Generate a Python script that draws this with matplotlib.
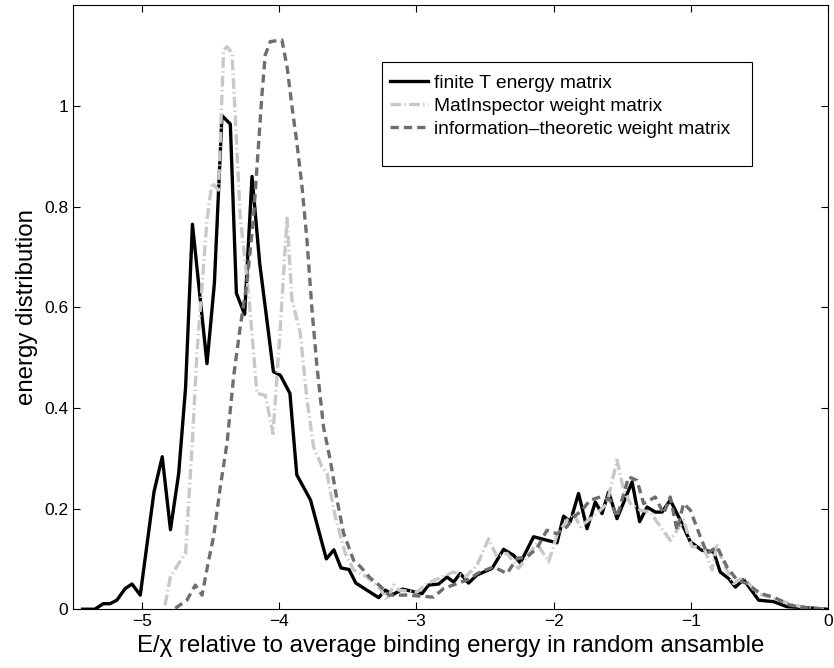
import numpy as np
import matplotlib
matplotlib.use('Agg')
import matplotlib.pyplot as plt
from matplotlib.patches import Rectangle

plt.rcParams['font.family'] = ['Liberation Sans', 'DejaVu Sans']

# finite T energy matrix (black, solid)
x_finite = [-5.43, -5.34, -5.28, -5.23, -5.18, -5.12, -5.07, -5.01, -4.91, -4.85,
            -4.79, -4.73, -4.68, -4.63, -4.524, -4.47, -4.415, -4.354, -4.31, -4.25,
            -4.196, -4.14, -4.04, -3.99, -3.92, -3.87, -3.77, -3.655, -3.60, -3.548,
            -3.49, -3.44, -3.274, -3.225, -3.17, -3.10, -2.958, -2.91, -2.837, -2.776,
            -2.728, -2.68, -2.619, -2.558, -2.448, -2.364, -2.291, -2.242, -2.145, -2.048,
            -1.975, -1.927, -1.878, -1.818, -1.756, -1.696, -1.647, -1.599, -1.538, -1.428,
            -1.373, -1.319, -1.259, -1.21, -1.15, -1.077, -1.004, -0.919, -0.834, -0.786,
            -0.725, -0.676, -0.616, -0.506, -0.397, -0.30, -0.154, -0.01]
y_finite = [0.0, 0.0, 0.011, 0.011, 0.018, 0.041, 0.05, 0.028, 0.233, 0.303,
            0.158, 0.27, 0.44, 0.765, 0.488, 0.648, 0.981, 0.964, 0.628, 0.586,
            0.86, 0.687, 0.472, 0.465, 0.429, 0.267, 0.217, 0.10, 0.118, 0.082,
            0.079, 0.052, 0.023, 0.038, 0.029, 0.040, 0.031, 0.048, 0.05, 0.064,
            0.054, 0.071, 0.052, 0.068, 0.081, 0.119, 0.107, 0.092, 0.144, 0.137,
            0.132, 0.185, 0.174, 0.23, 0.16, 0.213, 0.19, 0.233, 0.18, 0.253,
            0.174, 0.203, 0.193, 0.193, 0.217, 0.177, 0.134, 0.117, 0.114, 0.074,
            0.061, 0.044, 0.059, 0.018, 0.015, 0.005, 0.003, 0.0]

# MatInspector weight matrix (light grey, dash-dot)
x_matinsp = [-4.83, -4.79, -4.73, -4.68, -4.63, -4.597, -4.524, -4.488, -4.44, -4.403,
             -4.378, -4.342, -4.318, -4.282, -4.221, -4.16, -4.099, -4.043, -3.99, -3.941,
             -3.905, -3.845, -3.796, -3.748, -3.687, -3.65, -3.59, -3.517, -3.456, -3.359,
             -3.262, -3.213, -3.165, -3.129, -2.995, -2.922, -2.812, -2.728, -2.643, -2.558,
             -2.473, -2.412, -2.339, -2.255, -2.193, -2.121, -2.036, -1.975, -1.902, -1.854,
             -1.805, -1.745, -1.684, -1.611, -1.538, -1.49, -1.441, -1.368, -1.295, -1.222,
             -1.15, -1.101, -1.053, -0.992, -0.907, -0.846, -0.81, -0.761, -0.689, -0.616,
             -0.518, -0.421, -0.324, -0.203, -0.033]
y_matinsp = [0.008, 0.064, 0.091, 0.111, 0.336, 0.51, 0.773, 0.847, 0.833, 1.111,
             1.118, 1.105, 0.979, 0.78, 0.628, 0.429, 0.425, 0.349, 0.56, 0.777,
             0.614, 0.549, 0.416, 0.323, 0.283, 0.27, 0.184, 0.111, 0.078, 0.064,
             0.041, 0.018, 0.048, 0.038, 0.034, 0.051, 0.064, 0.074, 0.064, 0.087,
             0.14, 0.104, 0.111, 0.081, 0.104, 0.131, 0.094, 0.147, 0.177, 0.19,
             0.164, 0.177, 0.19, 0.21, 0.296, 0.237, 0.21, 0.197, 0.193, 0.164,
             0.137, 0.157, 0.177, 0.124, 0.124, 0.078, 0.131, 0.09, 0.051, 0.064,
             0.031, 0.024, 0.015, 0.005, 0.0]

# information-theoretic weight matrix (dark grey, dashed)
x_info = [-4.755, -4.67, -4.609, -4.56, -4.512, -4.476, -4.427, -4.378, -4.33, -4.282,
          -4.233, -4.185, -4.148, -4.123, -4.1, -4.063, -3.978, -3.941, -3.905, -3.869,
          -3.832, -3.796, -3.759, -3.723, -3.675, -3.626, -3.577, -3.529, -3.456, -3.408,
          -3.335, -3.262, -3.201, -3.067, -2.97, -2.874, -2.801, -2.703, -2.63, -2.534,
          -2.437, -2.339, -2.266, -2.193, -2.121, -2.048, -1.975, -1.902, -1.854, -1.793,
          -1.732, -1.659, -1.587, -1.538, -1.453, -1.392, -1.344, -1.259, -1.198, -1.15,
          -1.101, -1.053, -1.004, -0.931, -0.882, -0.81, -0.737, -0.664, -0.591, -0.494,
          -0.397, -0.276, -0.154, -0.033]
y_info = [0.002, 0.018, 0.048, 0.028, 0.097, 0.144, 0.243, 0.33, 0.462, 0.561,
          0.648, 0.78, 0.926, 1.025, 1.101, 1.128, 1.131, 1.078, 0.999, 0.926,
          0.84, 0.734, 0.594, 0.482, 0.362, 0.296, 0.217, 0.151, 0.097, 0.085,
          0.062, 0.046, 0.028, 0.028, 0.026, 0.024, 0.041, 0.051, 0.058, 0.074,
          0.084, 0.071, 0.101, 0.104, 0.121, 0.157, 0.15, 0.164, 0.183, 0.197,
          0.217, 0.223, 0.217, 0.183, 0.263, 0.256, 0.21, 0.223, 0.19, 0.223,
          0.157, 0.21, 0.197, 0.144, 0.111, 0.124, 0.084, 0.058, 0.051, 0.031,
          0.024, 0.008, 0.003, 0.0]

fig = plt.figure(figsize=(8.34, 6.68), dpi=100)
ax = fig.add_axes([0.0875, 0.088, 0.9055, 0.904])

ax.plot(x_finite, y_finite, color='black', lw=2.4, label='finite T energy matrix')
ax.plot(x_matinsp, y_matinsp, color='#c8c8c8', lw=2.4, dashes=(3.2, 1.0, 0.4, 1.0),
        label='MatInspector weight matrix')
ax.plot(x_info, y_info, color='#6e6e6e', lw=2.4, dashes=(2.5, 1.5),
        label='information\u2013theoretic weight matrix')

ax.set_xlim(-5.5, 0)
ax.set_ylim(0, 1.2)
ax.set_xticks([-5, -4, -3, -2, -1, 0])
ax.set_yticks([0, 0.2, 0.4, 0.6, 0.8, 1.0])
ax.set_yticklabels(['0', '0.2', '0.4', '0.6', '0.8', '1'])
ax.tick_params(direction='in', top=True, right=True, labelsize=12.5, length=5)
ax.set_xlabel('E/\u03c7 relative to average binding energy in random ansamble', fontsize=17.3)
ax.set_ylabel('energy distribution', fontsize=17.3)

# legend box (MATLAB style: extra room below the last entry)
ax.add_patch(Rectangle((0.409, 0.734), 0.49, 0.173, transform=ax.transAxes,
                       facecolor='white', edgecolor='black', lw=0.8, zorder=4))
leg = ax.legend(loc='upper left', bbox_to_anchor=(0.42, 0.886), fontsize=13.8,
                frameon=False, handlelength=2.0, handletextpad=0.3,
                borderpad=0, labelspacing=0.3, borderaxespad=0)
leg.set_zorder(5)

fig.savefig('out.png', dpi=100)
